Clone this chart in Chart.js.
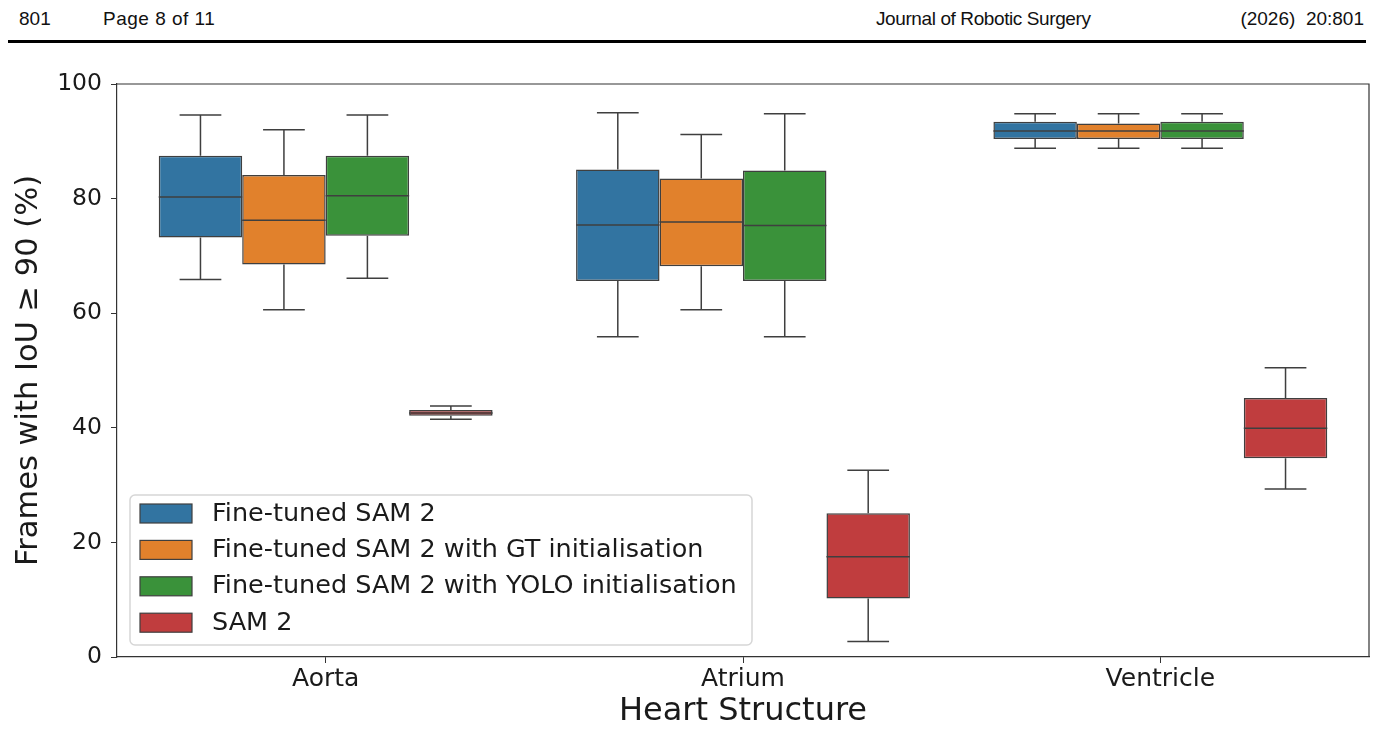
<!DOCTYPE html>
<html>
<head>
<meta charset="utf-8">
<script src="https://cdn.jsdelivr.net/npm/chart.js@4"></script>
<style>
  html, body { margin: 0; padding: 0; background: #fff; }
  body { width: 1382px; height: 731px; position: relative; overflow: hidden; }
  .hdr { position: absolute; top: 8px; font-family: "Liberation Sans", Arial, sans-serif; font-size: 19px; color: #111; white-space: nowrap; }
  .rule { position: absolute; left: 8px; right: 16px; top: 40px; height: 3px; background: #000; }
  #wrap { position: absolute; left: 0; top: 0; width: 1382px; height: 731px; }
</style>
</head>
<body>
<div class="hdr" style="left:19px">801</div>
<div class="hdr" style="left:103px; letter-spacing:0.5px">Page 8 of 11</div>
<div class="hdr" style="left:876px; letter-spacing:-0.4px">Journal of Robotic Surgery</div>
<div class="hdr" style="right:18px">(2026)&nbsp;&nbsp;20:801</div>
<div class="rule"></div>
<div id="wrap"><canvas id="chart" width="1382" height="731"></canvas></div>

<script>
// --- Data (min, q1, median, q3, max) per structure ---
const structures = ['Aorta', 'Atrium', 'Ventricle'];
const seriesNames = [
    'Fine-tuned SAM 2',
    'Fine-tuned SAM 2 with GT initialisation',
    'Fine-tuned SAM 2 with YOLO initialisation',
    'SAM 2'
];
const fineTuned = [[65.9, 73.2, 80.3, 87.5, 94.6], [55.9, 65.6, 75.4, 85.1, 95.0], [88.8, 90.4, 91.8, 93.4, 94.8]];
const fineTunedGT = [[60.6, 68.5, 76.2, 84.1, 92.0], [60.6, 68.2, 75.9, 83.5, 91.2], [88.8, 90.4, 91.8, 93.1, 94.8]];
const fineTunedYolo = [[66.1, 73.5, 80.5, 87.5, 94.6], [55.9, 65.6, 75.3, 84.9, 94.8], [88.8, 90.4, 91.8, 93.4, 94.8]];
const sam2 = [[41.5, 42.1, 42.6, 43.1, 43.8], [2.7, 10.2, 17.5, 25.1, 32.6], [29.3, 34.7, 39.9, 45.2, 50.5]];
const yTicks = [0, 20, 40, 60, 80, 100];

const colors = ['#3274a1', '#e1812c', '#3a923a', '#c03d3e'];
const lineColor = '#3f3f3f';
const allStats = [fineTuned, fineTunedGT, fineTunedYolo, sam2];

// whiskers + medians drawn with the chart's own scales
const boxExtras = {
    id: 'boxExtras',
    afterDatasetsDraw(chart) {
        const ctx = chart.ctx;
        const y = chart.scales.y;
        ctx.save();
        ctx.strokeStyle = lineColor;
        ctx.lineWidth = 1.5;
        chart.data.datasets.forEach((ds, i) => {
            const meta = chart.getDatasetMeta(i);
            meta.data.forEach((bar, j) => {
                const s = ds.stats[j];
                const half = bar.width / 2;
                const cap = bar.width / 4;
                const yMin = y.getPixelForValue(s[0]);
                const yQ1 = y.getPixelForValue(s[1]);
                const yMed = y.getPixelForValue(s[2]);
                const yQ3 = y.getPixelForValue(s[3]);
                const yMax = y.getPixelForValue(s[4]);
                ctx.beginPath();
                ctx.moveTo(bar.x, yQ3); ctx.lineTo(bar.x, yMax);
                ctx.moveTo(bar.x, yQ1); ctx.lineTo(bar.x, yMin);
                ctx.moveTo(bar.x - cap, yMax); ctx.lineTo(bar.x + cap, yMax);
                ctx.moveTo(bar.x - cap, yMin); ctx.lineTo(bar.x + cap, yMin);
                ctx.moveTo(bar.x - half, yMed); ctx.lineTo(bar.x + half, yMed);
                ctx.stroke();
            });
        });
        // top and right spines
        const a = chart.chartArea;
        ctx.strokeStyle = '#333';
        ctx.lineWidth = 1.2;
        ctx.beginPath();
        ctx.moveTo(a.left, a.top); ctx.lineTo(a.right, a.top); ctx.lineTo(a.right, a.bottom);
        ctx.stroke();
        ctx.restore();
    }
};

// matplotlib-style legend in the lower left of the plot area
const boxLegend = {
    id: 'boxLegend',
    afterDraw(chart) {
        const ctx = chart.ctx;
        const a = chart.chartArea;
        const left = a.left + 13, top = a.bottom - 162, w = 622, h = 150;
        ctx.save();
        ctx.beginPath();
        ctx.roundRect(left, top, w, h, 5);
        ctx.fillStyle = 'rgba(255,255,255,0.85)';
        ctx.fill();
        ctx.strokeStyle = '#d6d6d6';
        ctx.lineWidth = 1.5;
        ctx.stroke();
        ctx.font = '25.5px "DejaVu Sans"';
        ctx.textBaseline = 'middle';
        chart.data.datasets.forEach((ds, i) => {
            const cy = top + 18 + i * 36.4;
            ctx.fillStyle = ds.backgroundColor;
            ctx.fillRect(left + 10, cy - 9, 52, 19);
            ctx.strokeStyle = lineColor;
            ctx.lineWidth = 1.2;
            ctx.strokeRect(left + 10, cy - 9, 52, 19);
            ctx.fillStyle = '#1a1a1a';
            ctx.fillText(ds.label, left + 82, cy + 1);
        });
        ctx.restore();
    }
};

const datasets = seriesNames.map((name, i) => ({
    label: name,
    data: allStats[i].map(s => [s[1], s[3]]),
    stats: allStats[i],
    backgroundColor: colors[i],
    borderColor: lineColor,
    borderWidth: 1.5,
    borderSkipped: false,
    categoryPercentage: 0.8,
    barPercentage: 1.0
}));

new Chart(document.getElementById('chart'), {
    type: 'bar',
    data: { labels: structures, datasets: datasets },
    plugins: [boxExtras, boxLegend],
    options: {
        responsive: false,
        animation: false,
        layout: { padding: { left: 0, top: 84, right: 13, bottom: 0 } },
        plugins: { legend: { display: false }, tooltip: { enabled: false } },
        scales: {
            x: {
                grid: { drawOnChartArea: false, offset: false, tickLength: 6, color: '#333' },
                border: { color: '#333', width: 1.2 },
                ticks: { color: '#1a1a1a', font: { family: 'DejaVu Sans', size: 25 }, padding: 1 },
                title: { display: true, text: 'Heart Structure', color: '#1a1a1a', font: { family: 'DejaVu Sans', size: 32 }, padding: { top: 0, bottom: 0 } },
                afterFit(scale) { scale.height = 74; }
            },
            y: {
                min: 0, max: 100,
                afterBuildTicks(scale) { scale.ticks = yTicks.map(v => ({ value: v })); },
                grid: { drawOnChartArea: false, tickLength: 6, color: '#333' },
                border: { color: '#333', width: 1.2 },
                ticks: { color: '#1a1a1a', font: { family: 'DejaVu Sans', size: 23.5 }, padding: 9 },
                title: { display: true, text: 'Frames with IoU ≥ 90 (%)', color: '#1a1a1a', font: { family: 'DejaVu Sans', size: 30.5 }, padding: { top: 11, bottom: 0 } },
                afterFit(scale) { scale.width = 117; }
            }
        }
    }
});
</script>
</body>
</html>
